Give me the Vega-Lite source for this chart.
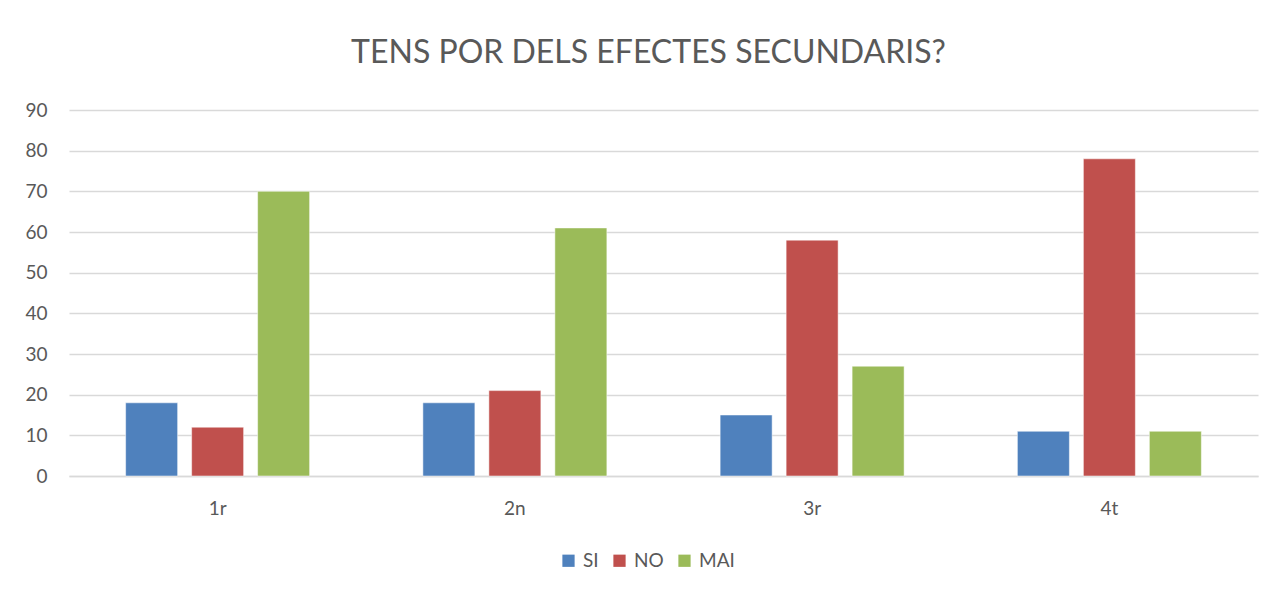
{
  "$schema": "https://vega.github.io/schema/vega-lite/v6.json",
  "width": 1189,
  "height": 366,
  "autosize": "none",
  "padding": {"left": 69, "top": 110, "right": 29, "bottom": 117},
  "background": "white",
  "title": {
    "text": "TENS POR DELS EFECTES SECUNDARIS?",
    "anchor": "middle",
    "dx": -15,
    "offset": 31,
    "font": "Lato",
    "fontSize": 32,
    "fontWeight": "normal",
    "color": "#595959"
  },
  "data": {
    "values": [
      {"curs": "1r", "resposta": "SI", "valor": 18},
      {"curs": "1r", "resposta": "NO", "valor": 12},
      {"curs": "1r", "resposta": "MAI", "valor": 70},
      {"curs": "2n", "resposta": "SI", "valor": 18},
      {"curs": "2n", "resposta": "NO", "valor": 21},
      {"curs": "2n", "resposta": "MAI", "valor": 61},
      {"curs": "3r", "resposta": "SI", "valor": 15},
      {"curs": "3r", "resposta": "NO", "valor": 58},
      {"curs": "3r", "resposta": "MAI", "valor": 27},
      {"curs": "4t", "resposta": "SI", "valor": 11},
      {"curs": "4t", "resposta": "NO", "valor": 78},
      {"curs": "4t", "resposta": "MAI", "valor": 11}
    ]
  },
  "mark": {"type": "bar", "stroke": "white", "strokeWidth": 0.5},
  "encoding": {
    "x": {
      "field": "curs",
      "type": "nominal",
      "sort": ["1r", "2n", "3r", "4t"],
      "scale": {"paddingInner": 0.334, "paddingOuter": 0.167},
      "axis": {
        "title": null,
        "labelAngle": 0,
        "labelFont": "Lato",
        "labelFontSize": 19,
        "labelColor": "#595959",
        "labelPadding": 23,
        "ticks": false,
        "domain": true,
        "domainColor": "#d9d9d9",
        "domainWidth": 1.5
      }
    },
    "xOffset": {
      "field": "resposta",
      "type": "nominal",
      "sort": ["SI", "NO", "MAI"],
      "scale": {"paddingInner": 0.212, "paddingOuter": 0.106}
    },
    "y": {
      "field": "valor",
      "type": "quantitative",
      "scale": {"domain": [0, 90], "nice": false},
      "axis": {
        "title": null,
        "values": [0, 10, 20, 30, 40, 50, 60, 70, 80, 90],
        "labelFont": "Lato",
        "labelFontSize": 19,
        "labelColor": "#595959",
        "labelPadding": 22,
        "ticks": false,
        "domain": false,
        "grid": true,
        "gridColor": "#d9d9d9",
        "gridWidth": 1.5
      }
    },
    "color": {
      "field": "resposta",
      "type": "nominal",
      "sort": ["SI", "NO", "MAI"],
      "scale": {"domain": ["SI", "NO", "MAI"], "range": ["#4f81bd", "#c0504d", "#9bbb59"]},
      "legend": {
        "title": null,
        "orient": "none",
        "direction": "horizontal",
        "legendX": 490,
        "legendY": 441,
        "symbolType": "square",
        "symbolSize": 150,
        "symbolStrokeWidth": 0,
        "labelFont": "Lato",
        "labelFontSize": 19,
        "labelColor": "#595959",
        "labelOffset": 5,
        "columnPadding": 11
      }
    }
  },
  "config": {"view": {"stroke": null}}
}
